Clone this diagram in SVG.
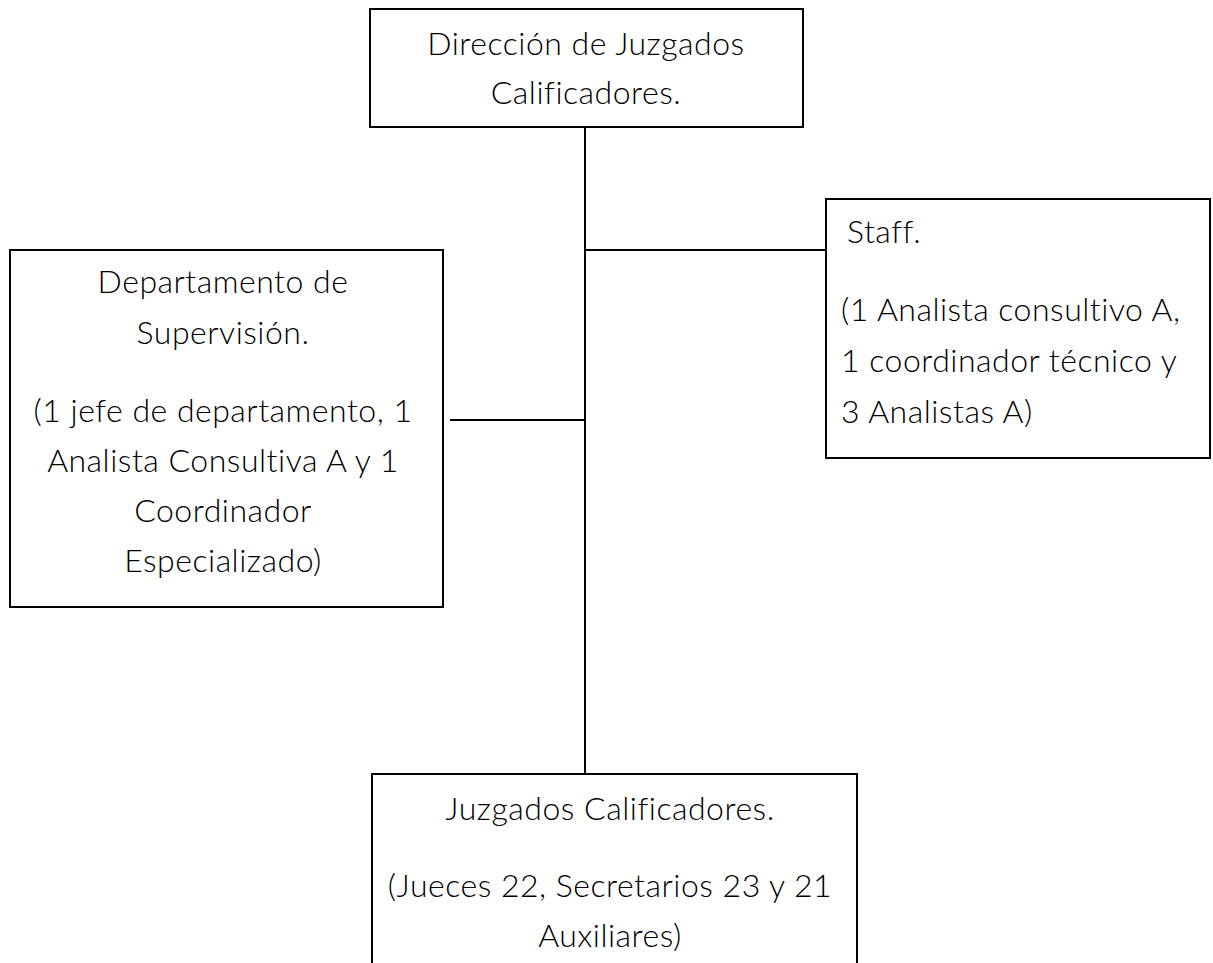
<svg xmlns="http://www.w3.org/2000/svg" width="1213" height="963" viewBox="0 0 1213 963">
<style>
.box{fill:#fff;stroke:#000;stroke-width:2}
.t{font-family:Lato,"Noto Sans",sans-serif;font-size:32px;font-weight:300;letter-spacing:0.5px;fill:#000}
.c{text-anchor:middle}
.ln{stroke:#000;stroke-width:2;fill:none}
</style>
<rect width="1213" height="963" fill="#fff"/>
<g id="connectors">
<line class="ln" x1="585" y1="127" x2="585" y2="774"/>
<line class="ln" x1="585" y1="250" x2="826" y2="250"/>
<line class="ln" x1="450" y1="420" x2="585" y2="420"/>
</g>
<g id="direccion">
<rect class="box" x="370" y="9" width="433" height="118"/>
<text class="t c" x="586" y="55">Dirección de Juzgados</text>
<text class="t c" x="586" y="104">Calificadores.</text>
</g>
<g id="supervision">
<rect class="box" x="10" y="250" width="433" height="357"/>
<text class="t c" x="223" y="293">Departamento de</text>
<text class="t c" x="223" y="344">Supervisión.</text>
<text class="t c" x="223" y="422">(1 jefe de departamento, 1</text>
<text class="t c" x="223" y="472">Analista Consultiva A y 1</text>
<text class="t c" x="223" y="522">Coordinador</text>
<text class="t c" x="223" y="572">Especializado)</text>
</g>
<g id="staff">
<rect class="box" x="826" y="199" width="384" height="259"/>
<text class="t" x="847" y="243">Staff.</text>
<text class="t" x="841" y="321">(1 Analista consultivo A,</text>
<text class="t" x="841" y="372">1 coordinador técnico y</text>
<text class="t" x="841" y="423">3 Analistas A)</text>
</g>
<g id="juzgados">
<rect class="box" x="372" y="774" width="485" height="200"/>
<text class="t c" x="610" y="820">Juzgados Calificadores.</text>
<text class="t c" x="610" y="897">(Jueces 22, Secretarios 23 y 21</text>
<text class="t c" x="610" y="947">Auxiliares)</text>
</g>
</svg>
